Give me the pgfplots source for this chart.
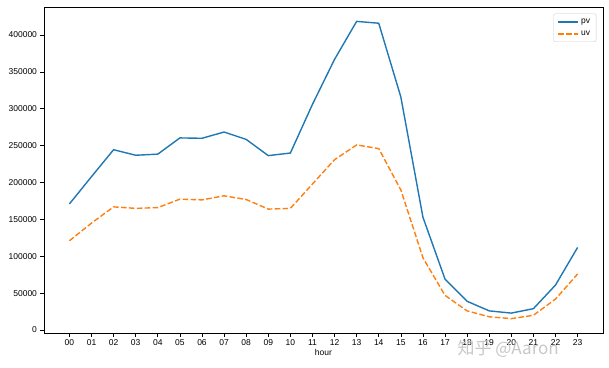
\documentclass[border=0pt]{standalone}
\usepackage{pgfplots}
\pgfplotsset{compat=1.18}
\usepackage{fontspec}
\setmainfont{Liberation Sans}
\newfontfamily\cjk{Noto Sans CJK SC}
\definecolor{tabblue}{HTML}{1F77B4}
\definecolor{taborange}{HTML}{FF7F0E}
\begin{document}
\begin{tikzpicture}
\begin{axis}[
  scale only axis,
  width=559pt, height=326pt,
  xmin=-1.15, xmax=24.15,
  ymin=-4000, ymax=438000,
  xtick={0,...,23},
  xticklabels={00,01,02,03,04,05,06,07,08,09,10,11,12,13,14,15,16,17,18,19,20,21,22,23},
  ytick={0,50000,100000,150000,200000,250000,300000,350000,400000},
  scaled y ticks=false,
  yticklabel style={/pgf/number format/fixed,/pgf/number format/1000 sep={}},
  /pgf/number format/assume math mode=true,
  tick align=outside,
  tick pos=left,
  major tick length=3.5pt,
  tick style={black, line width=0.6pt},
  axis line style={line width=0.8pt},
  ticklabel style={font=\fontsize{8.5}{10}\selectfont},
  xlabel={hour},
  xlabel style={font=\fontsize{8.5}{10}\selectfont, yshift=4pt},
  legend style={at={(0.988,0.98)}, anchor=north east, draw=black!20, rounded corners=2pt,
    font=\fontsize{8.5}{10}\selectfont, row sep=2pt, inner xsep=4pt, inner ysep=3pt},
  legend cell align=left,
  legend image code/.code={\draw[line width=1.6pt,#1] (0pt,0pt) -- (20pt,0pt);},
]
\addplot[tabblue, line width=1.4pt] coordinates {
(0,171000) (1,208000) (2,244500) (3,237000) (4,238500) (5,260500) (6,260000) (7,268500)
(8,258500) (9,236500) (10,240000) (11,306000) (12,367000) (13,418500) (14,416000) (15,316000)
(16,153000) (17,69000) (18,39000) (19,26000) (20,23000) (21,29000) (22,61000) (23,112000)};
\addlegendentry{pv}
\addplot[taborange, line width=1.4pt, dash pattern=on 5.5pt off 2.4pt] coordinates {
(0,121000) (1,145000) (2,167000) (3,165000) (4,166000) (5,177500) (6,176500) (7,182000)
(8,177000) (9,164000) (10,165000) (11,198000) (12,231000) (13,251000) (14,246000) (15,190000)
(16,98000) (17,47000) (18,26000) (19,18000) (20,15500) (21,20000) (22,42000) (23,76000)};
\addlegendentry{uv}
\end{axis}
\node[anchor=base west, text=black!22, font=\cjk\fontsize{17}{20}\selectfont] at (410pt,-21pt) {知乎 @Aaron};
\useasboundingbox (-44pt,-34pt) rectangle (565pt,333pt);
\end{tikzpicture}
\end{document}
